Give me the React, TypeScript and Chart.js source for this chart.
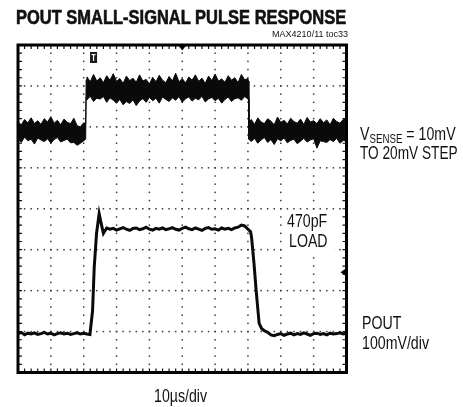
import React, { useEffect, useRef } from "react";
import { Chart, registerables } from "chart.js";

Chart.register(...registerables);

// ---- Data (time in µs, amplitude in screen divisions; 0 = screen centre) ----
const vsenseTime = [
  0, 1, 2, 3, 4, 5, 6, 7, 8, 9, 10, 11, 12, 13, 14, 15, 16, 17, 18, 19, 20, 20.6,
  20.75, 21, 22, 23, 24, 25, 26, 27, 28, 29, 30, 31, 32, 33, 34, 35, 36, 37, 38, 39, 40,
  41, 42, 43, 44, 45, 46, 47, 48, 49, 50, 51, 52, 53, 54, 55, 56, 57, 58, 59, 60,
  61, 62, 63, 64, 65, 66, 67, 68, 69, 70, 70.15,
  70.3, 71, 72, 73, 74, 75, 76, 77, 78, 79, 80, 81, 82, 83, 84, 85, 86, 87, 88, 89, 90,
  91, 92, 93, 94, 95, 96, 97, 98, 99, 100,
];
const vsenseUpper = [
  2.12, 2.05, 2.18, 2.10, 2.22, 2.08, 2.15, 2.06, 2.20, 2.12,
  2.25, 2.09, 2.16, 2.05, 2.19, 2.11, 2.08, 2.21, 2.03, 2.00,
  2.10, 2.08,
  3.15, 3.22, 3.10, 3.28, 3.12, 3.20, 3.08, 3.25, 3.14, 3.30,
  3.11, 3.18, 3.06, 3.24, 3.13, 3.19, 3.09, 3.27, 3.12, 3.16,
  3.05, 3.21, 3.10, 3.26, 3.14, 3.08, 3.23, 3.12, 3.31, 3.10,
  3.18, 3.07, 3.22, 3.14, 3.27, 3.11, 3.19, 3.06, 3.24, 3.13,
  3.29, 3.12, 3.17, 3.09, 3.25, 3.14, 3.20, 3.08, 3.28, 3.15,
  3.18, 3.12,
  2.10, 2.18, 2.06, 2.22, 2.12, 2.08, 2.20, 2.14, 2.05, 2.24,
  2.11, 2.16, 2.07, 2.21, 2.13, 2.09, 2.19, 2.06, 2.23, 2.12,
  2.15, 2.08, 2.20, 2.10, 2.17, 2.05, 2.21, 2.13, 2.09, 2.18,
  2.22,
];
const vsenseLower = [
  1.72, 1.62, 1.75, 1.66, 1.70, 1.58, 1.73, 1.68, 1.64, 1.71,
  1.60, 1.69, 1.74, 1.63, 1.67, 1.70, 1.61, 1.62, 1.55, 1.60,
  1.66, 1.70,
  2.72, 2.66, 2.75, 2.62, 2.70, 2.68, 2.74, 2.60, 2.71, 2.65,
  2.58, 2.67, 2.54, 2.62, 2.57, 2.66, 2.52, 2.63, 2.69, 2.60,
  2.72, 2.64, 2.70, 2.58, 2.73, 2.67, 2.62, 2.71, 2.65, 2.74,
  2.60, 2.69, 2.73, 2.63, 2.70, 2.66, 2.75, 2.61, 2.68, 2.72,
  2.64, 2.70, 2.58, 2.67, 2.73, 2.62, 2.69, 2.71, 2.65, 2.74,
  2.68, 2.70,
  1.70, 1.64, 1.72, 1.60, 1.68, 1.74, 1.62, 1.69, 1.57, 1.71,
  1.66, 1.73, 1.61, 1.67, 1.70, 1.59, 1.65, 1.72, 1.63, 1.68,
  1.71, 1.48, 1.66, 1.64, 1.62, 1.69, 1.64, 1.72, 1.60, 1.67,
  1.65,
];

const poutTime = [
  0, 1, 2, 3, 4, 5, 6, 7, 8, 9, 10, 11, 12, 13, 14, 15, 16, 17, 18, 19, 20, 21,
  21.9, 22.7, 23.2, 23.9, 24.7, 25.3, 26.0,
  27, 28, 29, 30, 31, 32, 33, 34, 35, 36, 37, 38, 39, 40, 41, 42, 43, 44, 45, 46, 47, 48,
  49, 50, 51, 52, 53, 54, 55, 56, 57, 58, 59, 60, 61, 62, 63, 64, 65, 66, 67, 68, 69, 70,
  70.8, 71.1, 71.8, 72.5, 73.4, 74.2,
  75, 76, 77, 78, 79, 80, 81, 82, 83, 84, 85, 86, 87, 88, 89, 90, 91, 92, 93, 94, 95, 96,
  97, 98, 99, 100,
];
const poutLevel = [
  -3.05, -3.02, -3.08, -3.04, -3.06, -3.03, -3.07, -3.05, -3.02, -3.06,
  -3.04, -3.08, -3.05, -3.03, -3.06, -3.04, -3.07, -3.05, -3.03, -3.06,
  -3.04, -3.06,
  -3.07, -2.49, -1.44, -0.61, -0.12, -0.35, -0.60,
  -0.47, -0.50, -0.48, -0.52, -0.49, -0.46, -0.50, -0.53, -0.48, -0.47,
  -0.51, -0.49, -0.45, -0.50, -0.52, -0.48, -0.50, -0.47, -0.51, -0.49,
  -0.46, -0.50, -0.52, -0.48, -0.45, -0.49, -0.51, -0.47, -0.50, -0.53,
  -0.48, -0.46, -0.50, -0.49, -0.52, -0.47, -0.50, -0.48, -0.51, -0.47,
  -0.45, -0.40, -0.42, -0.50,
  -0.56, -0.70, -1.30, -2.00, -2.80, -2.93,
  -2.98, -3.02, -3.08, -3.10, -3.07, -3.05, -3.09, -3.06, -3.04, -3.08,
  -3.05, -3.07, -3.03, -3.06, -3.09, -3.05, -3.04, -3.07, -3.05, -3.08,
  -3.04, -3.06, -3.05, -3.03, -3.06, -3.04,
];

// screen: 10 horizontal divisions of 10 µs, 8 vertical divisions
const X_MIN = 0;
const X_MAX = 100;
const X_DIV = 10;
const Y_MIN = -4;
const Y_MAX = 4;
const Y_DIV = 1;
const MINOR_PER_DIV = 5;
const triggerMarkTime = 23;
const centerMarkTime = 50;
const levelMarkDiv = -1.55;

const FONT = '"Liberation Sans", Arial, Helvetica, sans-serif';

const graticule = {
  id: "graticule",
  beforeDatasetsDraw(chart: any) {
    const { ctx, chartArea: a, scales } = chart;
    const x = scales.x;
    const y = scales.y;
    ctx.save();
    ctx.fillStyle = "#fff";
    ctx.fillRect(a.left, a.top, a.right - a.left, a.bottom - a.top);
    ctx.fillStyle = "#3c3c3c";
    const dx = X_DIV / MINOR_PER_DIV;
    const dy = Y_DIV / MINOR_PER_DIV;
    for (let v = X_MIN + X_DIV; v < X_MAX - 1e-6; v += X_DIV) {
      const px = x.getPixelForValue(v);
      for (let w = Y_MIN + dy; w < Y_MAX - 1e-6; w += dy) {
        const py = y.getPixelForValue(w);
        ctx.fillRect(px - 0.75, py - 0.75, 1.5, 1.5);
      }
    }
    for (let w = Y_MIN + Y_DIV; w < Y_MAX - 1e-6; w += Y_DIV) {
      const py = y.getPixelForValue(w);
      for (let v = X_MIN + dx; v < X_MAX - 1e-6; v += dx) {
        const px = x.getPixelForValue(v);
        ctx.fillRect(px - 0.75, py - 0.75, 1.5, 1.5);
      }
    }
    ctx.restore();
  },
  afterDatasetsDraw(chart: any) {
    const { ctx, chartArea: a, scales } = chart;
    const x = scales.x;
    const y = scales.y;
    ctx.save();
    ctx.strokeStyle = "#111";
    ctx.lineWidth = 1.2;
    const dx = X_DIV / MINOR_PER_DIV;
    const dy = Y_DIV / MINOR_PER_DIV;
    ctx.beginPath();
    for (let v = X_MIN + dx; v < X_MAX - 1e-6; v += dx) {
      const px = x.getPixelForValue(v);
      ctx.moveTo(px, a.top);
      ctx.lineTo(px, a.top + 4);
      ctx.moveTo(px, a.bottom);
      ctx.lineTo(px, a.bottom - 4);
    }
    for (let w = Y_MIN + dy; w < Y_MAX - 1e-6; w += dy) {
      const py = y.getPixelForValue(w);
      ctx.moveTo(a.left, py);
      ctx.lineTo(a.left + 4, py);
      ctx.moveTo(a.right, py);
      ctx.lineTo(a.right - 4, py);
    }
    ctx.stroke();
    ctx.strokeStyle = "#000";
    ctx.lineWidth = 3;
    ctx.strokeRect(a.left, a.top, a.right - a.left, a.bottom - a.top);
    const cx = x.getPixelForValue(centerMarkTime);
    ctx.fillStyle = "#000";
    ctx.beginPath();
    ctx.moveTo(cx - 3.5, a.top + 1);
    ctx.lineTo(cx + 3.5, a.top + 1);
    ctx.lineTo(cx, a.top + 5.5);
    ctx.closePath();
    ctx.fill();
    const tx = x.getPixelForValue(triggerMarkTime);
    ctx.fillStyle = "#1a1a1a";
    ctx.fillRect(tx - 3.5, a.top + 7, 7, 11);
    ctx.fillStyle = "#fff";
    ctx.fillRect(tx - 2, a.top + 9, 4, 1.2);
    ctx.fillRect(tx - 0.6, a.top + 9, 1.2, 7);
    const ly = y.getPixelForValue(levelMarkDiv);
    ctx.fillStyle = "#000";
    ctx.beginPath();
    ctx.moveTo(a.right - 1, ly - 3.5);
    ctx.lineTo(a.right - 1, ly + 3.5);
    ctx.lineTo(a.right - 6, ly);
    ctx.closePath();
    ctx.fill();
    ctx.restore();
  },
};

type TxtProps = {
  x: number;
  baseline: number;
  size: number;
  scale?: number;
  weight?: number;
  stroke?: number;
  align?: "left" | "right";
  children: React.ReactNode;
};

function Txt({ x, baseline, size, scale = 0.81, weight = 400, stroke = 0, align = "left", children }: TxtProps) {
  const top = baseline - 0.8465 * size;
  const style: React.CSSProperties = {
    position: "absolute",
    top,
    fontFamily: FONT,
    fontSize: size,
    lineHeight: `${size}px`,
    fontWeight: weight,
    whiteSpace: "nowrap",
    color: "#111",
    transform: `scaleX(${scale})`,
    transformOrigin: align === "left" ? "left top" : "right top",
  };
  if (stroke > 0) (style as any).WebkitTextStroke = `${stroke}px #111`;
  if (align === "left") style.left = x;
  else style.right = 463 - x;
  return <div style={style}>{children}</div>;
}

export default function App() {
  const ref = useRef<HTMLCanvasElement | null>(null);
  useEffect(() => {
    const canvas = ref.current;
    if (!canvas) return;
    const upper = vsenseTime.map((t, i) => ({ x: t, y: vsenseUpper[i] }));
    const lower = vsenseTime.map((t, i) => ({ x: t, y: vsenseLower[i] }));
    const pout = poutTime.map((t, i) => ({ x: t, y: poutLevel[i] }));
    const chart = new Chart(canvas, {
      type: "line",
      data: {
        datasets: [
          {
            label: "VSENSE",
            data: upper,
            borderColor: "#0a0a0a",
            backgroundColor: "#0a0a0a",
            borderWidth: 1,
            pointRadius: 0,
            tension: 0,
            fill: "+1",
          },
          {
            label: "VSENSE low",
            data: lower,
            borderColor: "#0a0a0a",
            borderWidth: 1,
            pointRadius: 0,
            tension: 0,
            fill: false,
          },
          {
            label: "POUT",
            data: pout,
            borderColor: "#0a0a0a",
            borderWidth: 3,
            pointRadius: 0,
            tension: 0,
            fill: false,
          },
        ],
      },
      options: {
        responsive: false,
        animation: false,
        events: [],
        layout: { padding: { left: 18, top: 45, right: 116.5, bottom: 34.5 } },
        scales: {
          x: { type: "linear", min: X_MIN, max: X_MAX, display: false },
          y: { type: "linear", min: Y_MIN, max: Y_MAX, display: false },
        },
        plugins: { legend: { display: false }, tooltip: { enabled: false } },
      },
      plugins: [graticule],
    });
    return () => chart.destroy();
  }, []);

  return (
    <div style={{ position: "absolute", left: 0, top: 0, width: 463, height: 407, background: "#fff", overflow: "hidden" }}>
      <canvas ref={ref} width={463} height={407} style={{ position: "absolute", left: 0, top: 0, width: 463, height: 407 }} />
      <Txt x={16} baseline={25} size={19.5} scale={0.845} weight={700} stroke={0.6}>
        POUT SMALL-SIGNAL PULSE RESPONSE
      </Txt>
      <Txt x={348} baseline={37.5} size={9.5} scale={0.95} align="right">
        MAX4210/11 toc33
      </Txt>
      <Txt x={360} baseline={141} size={17.5}>
        V
        <span style={{ fontSize: 12, position: "relative", top: 3 }}>SENSE</span> = 10mV
      </Txt>
      <Txt x={360} baseline={160} size={17.5} scale={0.78}>
        TO 20mV STEP
      </Txt>
      <div style={{ position: "absolute", left: 283, top: 212, width: 51, height: 44, background: "#fff" }} />
      <Txt x={287} baseline={227.5} size={17.5}>
        470pF
      </Txt>
      <Txt x={289} baseline={248} size={17.5}>
        LOAD
      </Txt>
      <Txt x={362} baseline={330} size={17.5}>
        POUT
      </Txt>
      <Txt x={362} baseline={350} size={17.5}>
        100mV/div
      </Txt>
      <Txt x={154} baseline={402.5} size={17.5}>
        10µs/div
      </Txt>
    </div>
  );
}
